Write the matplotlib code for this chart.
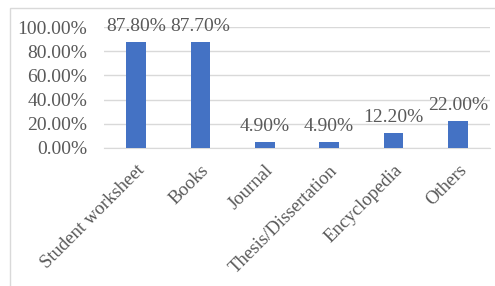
import matplotlib
matplotlib.use("Agg")
import matplotlib.pyplot as plt
from matplotlib.patches import Rectangle
from matplotlib.ticker import FuncFormatter

categories = ["Student worksheet", "Books", "Journal", "Thesis/Dissertation", "Encyclopedia", "Others"]
values = [87.80, 87.70, 4.90, 4.90, 12.20, 22.00]
yticks = [0, 20, 40, 60, 80, 100]

W, H = 495, 286
fig = plt.figure(figsize=(W / 100, H / 100), dpi=100)
plt.rcParams['font.family'] = ['Liberation Serif', 'DejaVu Serif']
txt = '#595959'
fs = 14

# outer chart border
fig.patches.append(Rectangle((10 / W, -0.1), 1.2, 1 - 8 / H + 0.1, transform=fig.transFigure,
                             fill=False, edgecolor='#d9d9d9', linewidth=1))

ax = fig.add_axes([104 / W, 1 - 148 / H, (490 - 104) / W, (148 - 27) / H])
x = list(range(len(categories)))
ax.bar(x, values, width=0.31, color='#4472c4', zorder=3)
ax.set_xlim(-0.5, len(categories) - 0.5)
ax.set_ylim(0, 100)
ax.set_yticks(yticks)
ax.yaxis.set_major_formatter(FuncFormatter(lambda v, p: f"{v:.2f}%"))
ax.grid(axis='y', color='#d9d9d9', linewidth=1, zorder=0)
for s in ['top', 'right', 'left']:
    ax.spines[s].set_visible(False)
ax.spines['bottom'].set_color('#d9d9d9')
ax.tick_params(axis='y', length=0, colors=txt, labelsize=fs, pad=12)
ax.tick_params(axis='x', length=0, colors=txt, labelsize=13.5, pad=10)
ax.set_xticks(x)
ax.set_xticklabels(categories, rotation=45, ha='right', rotation_mode='anchor')
for xi, v in zip(x, values):
    ax.annotate(f"{v:.2f}%", (xi, v), xytext=(0, 5), textcoords='offset points',
                ha='center', va='bottom', color=txt, fontsize=fs)

fig.savefig("out.png", dpi=100)
